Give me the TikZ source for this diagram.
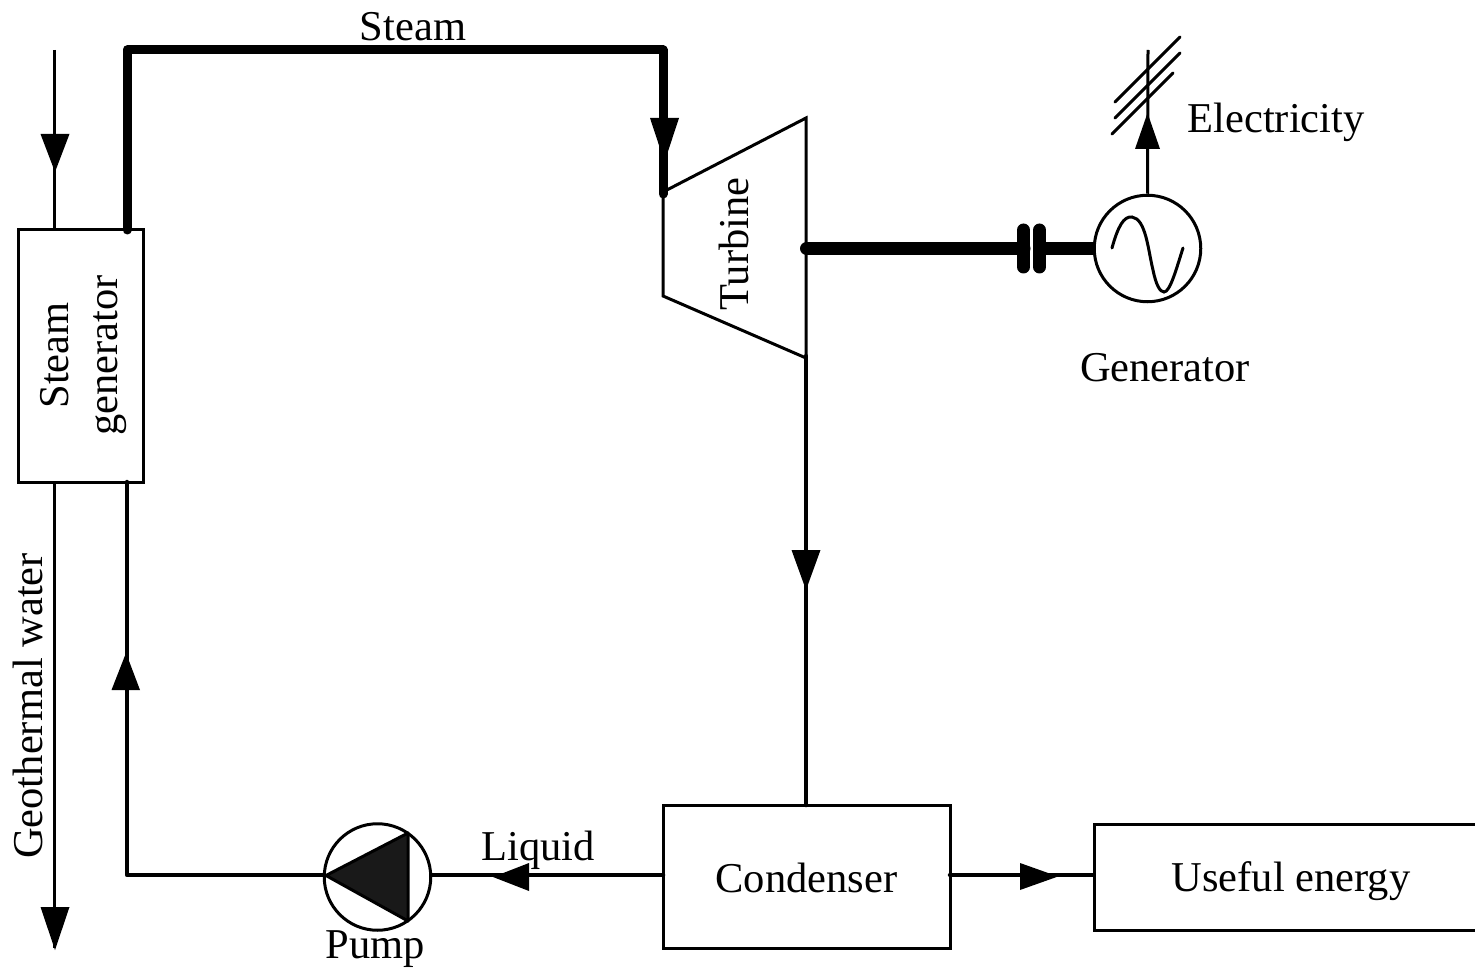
\documentclass[tikz,border=0pt]{standalone}
\usepackage{fontspec}
\setmainfont{Liberation Serif}
\tikzset{
  lbl/.style={inner sep=0pt,font=\fontsize{42.5}{46}\selectfont},
  boxn/.style={draw=black,line width=3pt,fill=white,inner sep=0pt},
  thin line/.style={draw=black,line width=3pt},
  mid line/.style={draw=black,line width=4.5pt,line cap=round,line join=round},
  thick line/.style={draw=black,line width=9pt,line cap=round,line join=round},
  shaft line/.style={draw=black,line width=13pt,line cap=round}
}
\newcommand{\tipdown}[3]{\fill (#1-14.5,#2) -- (#1+14.5,#2) -- (#1,#3) -- cycle;}
\begin{document}
\begin{tikzpicture}[x=1pt,y=-1pt]
\useasboundingbox (0,0) rectangle (1475,968);
% free ends and bends
\coordinate (gwin) at (54,50);
\coordinate (gwout) at (54,948);
\coordinate (sgtop) at (127,230);
\coordinate (c1) at (127,50);
\coordinate (c2) at (663,50);
\coordinate (tin) at (663,194);
\coordinate (sgbot) at (127,482);
\coordinate (c3) at (127,875);
\coordinate (el) at (1148,50);
% turbine
\draw[thin line,line join=miter] (663,192) -- (806,118) -- (806,358) -- (663,296) -- cycle;
% nodes
\node[boxn,minimum width=125pt,minimum height=252pt] (sg) at (81,356) {};
\node[boxn,minimum width=287pt,minimum height=143pt] (cond) at (806.5,877) {};
\node[boxn,minimum width=385pt,minimum height=106pt,anchor=west] (use) at (1093,877) {};
\node[lbl] (tcond) at (806.5,878) {Condenser};
\node[lbl] (tuse) at (1291,881) {Useful energy};
\node[lbl,rotate=90] (tsg1) at (55,355.5) {Steam};
\node[lbl,rotate=90] (tsg2) at (110,355.5) {generator};
\node[lbl,rotate=90] (tgw) at (28,706) {Geothermal water};
\node[lbl] (tst) at (413,27) {Steam};
\node[lbl] (tel) at (1276,122) {Electricity};
\node[lbl] (tgen) at (1165,368) {Generator};
\node[lbl] (tliq) at (538,850) {Liquid};
\node[lbl] (tpump) at (375,949) {Pump};
\node[lbl,rotate=90] (ttur) at (734,244) {Turbine};
% connectors
\draw[thin line] (gwin) -- (54,230);
\draw[thin line] (54,482) -- (gwout);
\draw[thick line] (sgtop) -- (c1) -- (c2) -- (tin);
\draw[mid line] (sgbot) -- (c3) -- (325,875);
\draw[mid line] (806,356) -- (806,805);
\draw[mid line] (430,875) -- (663,875);
\draw[mid line] (950,875) -- (1093,875);
\draw[shaft line] (806.5,248.5) -- (1024,248.5);
\draw[shaft line] (1040,248.5) -- (1094,248.5);
\draw[shaft line] (1023.5,230) -- (1023.5,267);
\draw[shaft line] (1039.5,230) -- (1039.5,267);
% generator
\node[boxn,circle,minimum size=106.5pt] (gen) at (1147.5,248.5) {};
\draw[line width=3pt,line cap=round] (1112,248) .. controls (1118,226) and (1124,216) .. (1132,217) .. controls (1146,219) and (1148,250) .. (1153,270) .. controls (1156,285) and (1160,292) .. (1164,292) .. controls (1170,292) and (1176,270) .. (1183,248);
\draw[thin line] (gen.north) -- (el);
\draw[line width=3pt,line cap=round] (1115,102) -- (1180,37);
\draw[line width=3pt,line cap=round] (1115,118) -- (1180,53);
\draw[line width=3pt,line cap=round] (1112,134) -- (1173,73);
% pump
\node[boxn,circle,minimum size=106.5pt] (pump) at (377.5,877) {};
\filldraw[draw=black,line width=3pt,fill=black!90,line join=round] (326,875.5) -- (408,833) -- (408,921) -- cycle;
% arrow tips
\tipdown{55}{134}{172}
\tipdown{55}{907}{950}
\tipdown{664.5}{118}{162}
\tipdown{806}{550}{590}
\fill (111.5,690) -- (140,690) -- (126,653) -- cycle;
\fill (1135,149) -- (1160,149) -- (1147.5,113) -- cycle;
\fill (529,863) -- (529,891) -- (493,877) -- cycle;
\fill (1020,863) -- (1020,890) -- (1058,876.5) -- cycle;
\end{tikzpicture}
\end{document}
